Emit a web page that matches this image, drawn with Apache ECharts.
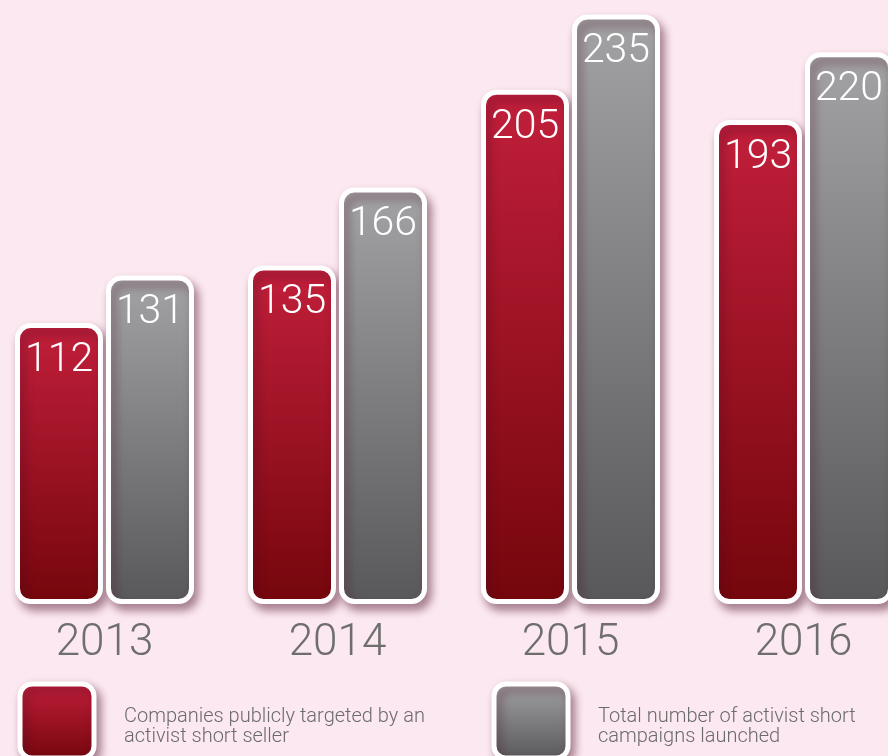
<!DOCTYPE html>
<html>
<head>
<meta charset="utf-8">
<script src="https://cdn.jsdelivr.net/npm/echarts@6/dist/echarts.min.js"></script>
<style>
  html, body { margin: 0; padding: 0; background: #fce8f0; overflow: hidden; width: 888px; height: 756px; }
  #chart { position: absolute; left: -12px; top: 0; width: 932px; height: 756px; }
</style>
</head>
<body>
<div id="chart"></div>
<script>
// data
let years = ['2013', '2014', '2015', '2016']
let companiesTargeted = [112, 135, 205, 193]
let campaignsLaunched = [131, 166, 235, 220]
let legendNames = ['Companies publicly targeted by an\nactivist short seller', 'Total number of activist short\ncampaigns launched']

// chart div starts 12px left of the window
let shiftX = 12

let redGrad = new echarts.graphic.LinearGradient(0, 0, 0, 1, [
  { offset: 0, color: '#c21f3b' },
  { offset: 1, color: '#74060c' }
])
let grayGrad = new echarts.graphic.LinearGradient(0, 0, 0, 1, [
  { offset: 0, color: '#a3a3a5' },
  { offset: 1, color: '#58585a' }
])
let thinFont = '"Helvetica Neue", Roboto, Arial, sans-serif'

function barStyle (grad) {
  return {
    color: grad,
    borderColor: '#ffffff',
    borderWidth: 5,
    borderRadius: 13,
    shadowColor: 'rgba(70, 10, 35, 0.45)',
    shadowBlur: 10,
    shadowOffsetX: 4,
    shadowOffsetY: 6
  }
}

function barLabel () {
  return {
    show: true,
    position: 'insideTop',
    distance: 17,
    color: '#fff',
    fontSize: 41,
    fontWeight: 300,
    fontFamily: thinFont
  }
}

function legendItem (x, grad, text) {
  return [{
    type: 'rect',
    shape: { x: x + shiftX, y: 684, width: 74, height: 74, r: 12 },
    style: {
      fill: grad,
      stroke: '#fff',
      lineWidth: 5,
      shadowColor: 'rgba(70, 10, 35, 0.45)',
      shadowBlur: 10,
      shadowOffsetX: 4,
      shadowOffsetY: 5
    }
  }, {
    type: 'text',
    left: x + shiftX + 104,
    top: 707,
    style: {
      text: text,
      fill: '#6b6b6b',
      font: '300 20px ' + thinFont,
      lineHeight: 20
    }
  }]
}

let myChart = echarts.init(document.getElementById('chart'))
let option = {
  backgroundColor: '#fce8f0',
  animation: false,
  grid: { left: 0, right: 0, top: 2, bottom: 152 },
  xAxis: {
    type: 'category',
    data: years,
    axisLine: { show: false },
    axisTick: { show: false },
    axisLabel: {
      color: '#6e6e6e',
      fontSize: 44,
      fontWeight: 300,
      fontFamily: thinFont,
      margin: 18
    }
  },
  yAxis: {
    type: 'value',
    min: 0,
    max: 240,
    show: false,
    splitLine: { show: false }
  },
  series: [{
    name: 'Companies publicly targeted by an activist short seller',
    type: 'bar',
    data: companiesTargeted,
    barWidth: 88,
    barGap: '3.4%',
    itemStyle: barStyle(redGrad),
    label: barLabel()
  }, {
    name: 'Total number of activist short campaigns launched',
    type: 'bar',
    data: campaignsLaunched,
    barWidth: 88,
    barGap: '3.4%',
    itemStyle: barStyle(grayGrad),
    label: barLabel()
  }],
  graphic: legendItem(20, redGrad, legendNames[0]).concat(legendItem(494, grayGrad, legendNames[1]))
}
myChart.setOption(option)
</script>
</body>
</html>
